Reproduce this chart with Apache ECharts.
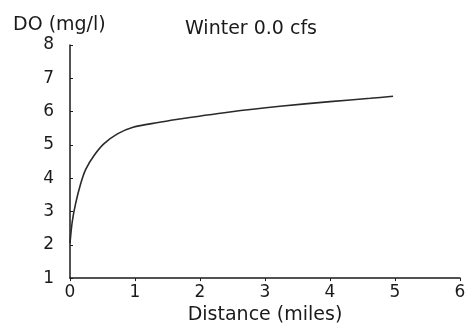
<!DOCTYPE html>
<html>
<head>
<meta charset="utf-8">
<script src="https://cdn.jsdelivr.net/npm/echarts@6/dist/echarts.min.js"></script>
<style>
  html, body { margin: 0; padding: 0; background: #fff; }
  #chart { width: 472px; height: 330px; }
</style>
</head>
<body>
<div id="chart"></div>
<script>
// Dissolved oxygen profile downstream of the outfall, winter, 0.0 cfs
const distanceMiles = [0, 0.035, 0.088, 0.165, 0.24, 0.37, 0.52, 0.73, 0.97, 1.38, 1.58, 2.46, 3.23, 4.0, 4.62, 4.97];
const doMgL        = [2.05, 2.7, 3.25, 3.84, 4.26, 4.68, 5.03, 5.33, 5.53, 5.68, 5.75, 5.99, 6.16, 6.3, 6.4, 6.46];
const xTicks = [0, 1, 2, 3, 4, 5, 6];
const yTicks = [1, 2, 3, 4, 5, 6, 7, 8];

const points = distanceMiles.map((d, i) => [d, doMgL[i]]);
const font = 'DejaVu Sans';
const ink = '#1a1a1a';

const chart = echarts.init(document.getElementById('chart'), null, { renderer: 'canvas' });
chart.setOption({
  animation: false,
  backgroundColor: '#fff',
  title: [
    { text: 'DO (mg/l)', left: 8, top: 11,
      textStyle: { fontFamily: font, fontSize: 19, fontWeight: 'normal', color: ink } },
    { text: 'Winter 0.0 cfs', left: 180, top: 15,
      textStyle: { fontFamily: font, fontSize: 19, fontWeight: 'normal', color: ink } }
  ],
  grid: { left: 70, right: 12, top: 45, bottom: 50, containLabel: false },
  xAxis: {
    type: 'value',
    min: xTicks[0], max: xTicks[xTicks.length - 1], interval: 1,
    name: 'Distance (miles)', nameLocation: 'middle', nameGap: 24,
    nameTextStyle: { fontFamily: font, fontSize: 19, color: ink },
    axisLine: { lineStyle: { color: ink, width: 1.5 } },
    axisTick: { show: true, length: 3, lineStyle: { color: ink } },
    axisLabel: { fontFamily: font, fontSize: 17, color: ink, margin: 6 },
    splitLine: { show: false }
  },
  yAxis: {
    type: 'value',
    min: yTicks[0], max: yTicks[yTicks.length - 1], interval: 1,
    axisLine: { show: true, lineStyle: { color: ink, width: 1.5 } },
    axisTick: { show: true, length: 3, inside: true, lineStyle: { color: ink } },
    axisLabel: { fontFamily: font, fontSize: 17, color: ink, margin: 16 },
    splitLine: { show: false }
  },
  series: [{
    type: 'line',
    data: points,
    smooth: 0.3,
    showSymbol: false,
    lineStyle: { color: '#2a2a2a', width: 1.6 }
  }]
});
</script>
</body>
</html>
